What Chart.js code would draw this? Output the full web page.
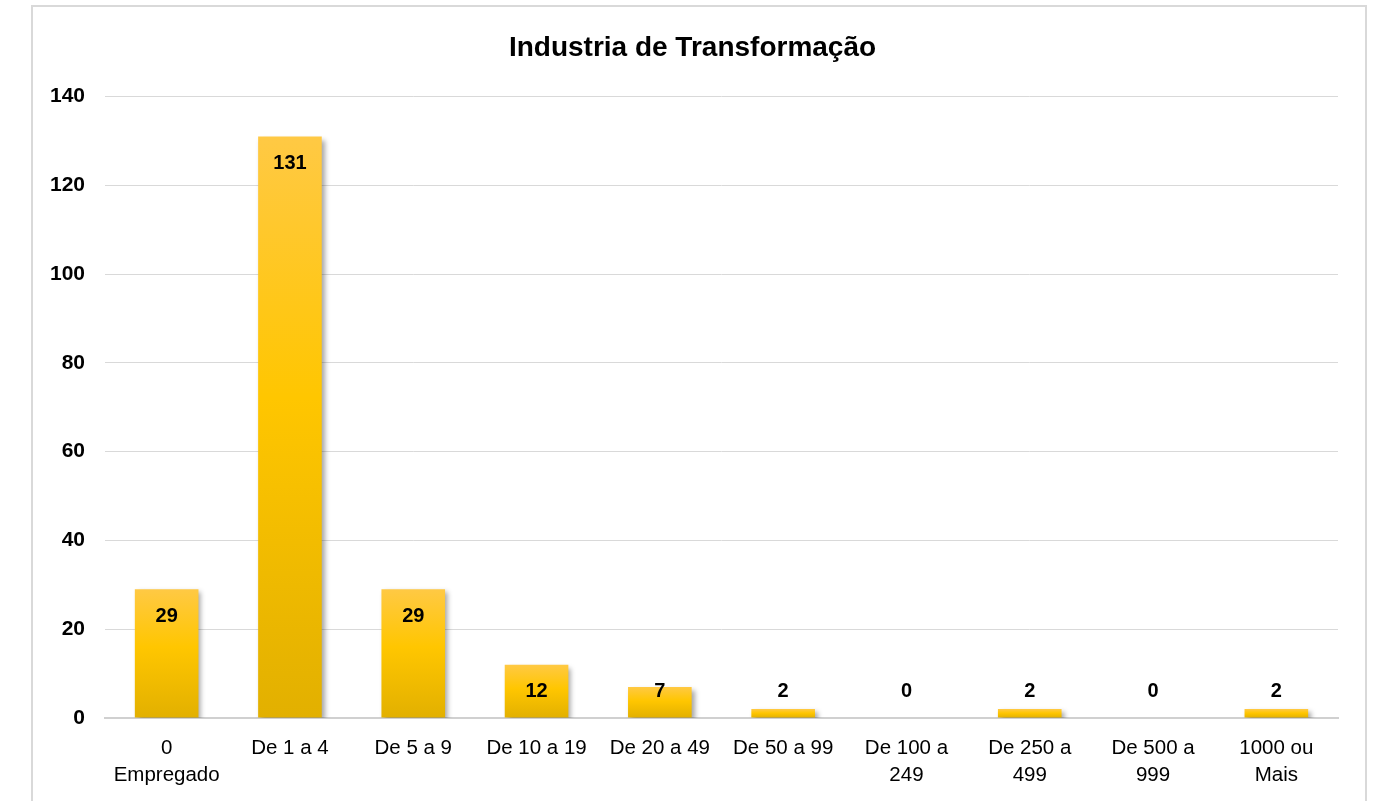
<!DOCTYPE html>
<html>
<head>
<meta charset="utf-8">
<script src="https://cdn.jsdelivr.net/npm/chart.js@4/dist/chart.umd.min.js"></script>
<style>
  html, body { margin: 0; padding: 0; background: #fff; overflow: hidden; }
  #moldura { position: absolute; left: 31px; top: 5px; width: 1336px; height: 820px; border: 2px solid #d9d9d9; box-sizing: border-box; }
  #grafico { position: absolute; left: 0; top: 0; }
</style>
</head>
<body>
<div id="moldura"></div>
<canvas id="grafico" width="1373" height="801"></canvas>
<script>
var etiquetas = [
  ['0', 'Empregado'], 'De 1 a 4', 'De 5 a 9', 'De 10 a 19', 'De 20 a 49',
  'De 50 a 99', ['De 100 a', '249'], ['De 250 a', '499'], ['De 500 a', '999'], ['1000 ou', 'Mais']
];
var empresas = [29, 131, 29, 12, 7, 2, 0, 2, 0, 2];
var marcasEixo = [0, 20, 40, 60, 80, 100, 120, 140];

var fonte = "'Liberation Sans', Arial, sans-serif";

// degrade de cada barra, do topo claro para a base mais escura
function corBarra(ctx) {
  var chart = ctx.chart;
  var y = chart.scales.y;
  if (!y || ctx.raw === undefined) return '#FFC600';
  var topo = y.getPixelForValue(ctx.raw);
  var base = y.getPixelForValue(0);
  if (!isFinite(topo) || !isFinite(base)) return '#FFC600';
  if (base - topo < 1) topo = base - 1;
  var g = chart.ctx.createLinearGradient(0, topo, 0, base);
  g.addColorStop(0, '#FFC944');
  g.addColorStop(0.45, '#FFC600');
  g.addColorStop(1, '#E2B000');
  return g;
}

var sombra = {
  id: 'sombra',
  beforeDatasetsDraw: function(chart) {
    var c = chart.ctx;
    c.save();
    c.shadowColor = 'rgba(0,0,0,0.35)';
    c.shadowBlur = 5;
    c.shadowOffsetX = 3;
    c.shadowOffsetY = 3;
  },
  afterDatasetsDraw: function(chart) {
    chart.ctx.restore();
  }
};

var rotulos = {
  id: 'rotulos',
  afterDraw: function(chart) {
    var c = chart.ctx;
    var meta = chart.getDatasetMeta(0);
    var base = chart.scales.y.getPixelForValue(0);
    c.save();
    c.font = 'bold 20px ' + fonte;
    c.fillStyle = '#000';
    c.textAlign = 'center';
    c.textBaseline = 'middle';
    meta.data.forEach(function(barra, i) {
      var yTxt = Math.min(barra.y + 27, base - 27);
      c.fillText(String(empresas[i]), barra.x, yTxt);
    });
    c.restore();
  }
};

new Chart(document.getElementById('grafico'), {
  type: 'bar',
  data: {
    labels: etiquetas,
    datasets: [{
      label: 'Empresas',
      data: empresas,
      backgroundColor: corBarra,
      borderWidth: 0,
      barPercentage: 0.6,
      categoryPercentage: 0.86
    }]
  },
  options: {
    responsive: false,
    animation: false,
    layout: { padding: { left: 47, right: 35, top: 0, bottom: 0 } },
    plugins: {
      legend: { display: false },
      tooltip: { enabled: false },
      title: {
        display: true,
        text: 'Industria de Transformação',
        color: '#000',
        font: { family: fonte, size: 28, weight: 'bold', lineHeight: 1.2 },
        padding: { top: 31, bottom: 32 }
      }
    },
    scales: {
      x: {
        afterFit: function(s) { s.height = 83; },
        grid: { display: false },
        border: { display: true, color: '#d0d0d0', width: 2 },
        ticks: {
          color: '#000',
          padding: 9,
          maxRotation: 0,
          autoSkip: false,
          font: { family: fonte, size: 20.5, lineHeight: 1.32 }
        }
      },
      y: {
        min: 0,
        max: 140,
        afterFit: function(s) { s.width = 58; },
        afterBuildTicks: function(s) {
          s.ticks = marcasEixo.map(function(v) { return { value: v }; });
        },
        border: { display: false },
        grid: {
          drawTicks: false,
          color: function(ctx) { return ctx.tick && ctx.tick.value === 0 ? 'rgba(0,0,0,0)' : '#d9d9d9'; },
          lineWidth: 1
        },
        ticks: {
          color: '#000',
          padding: 20,
          font: { family: fonte, size: 21, weight: 'bold' }
        }
      }
    }
  },
  plugins: [sombra, rotulos]
});
</script>
</body>
</html>
